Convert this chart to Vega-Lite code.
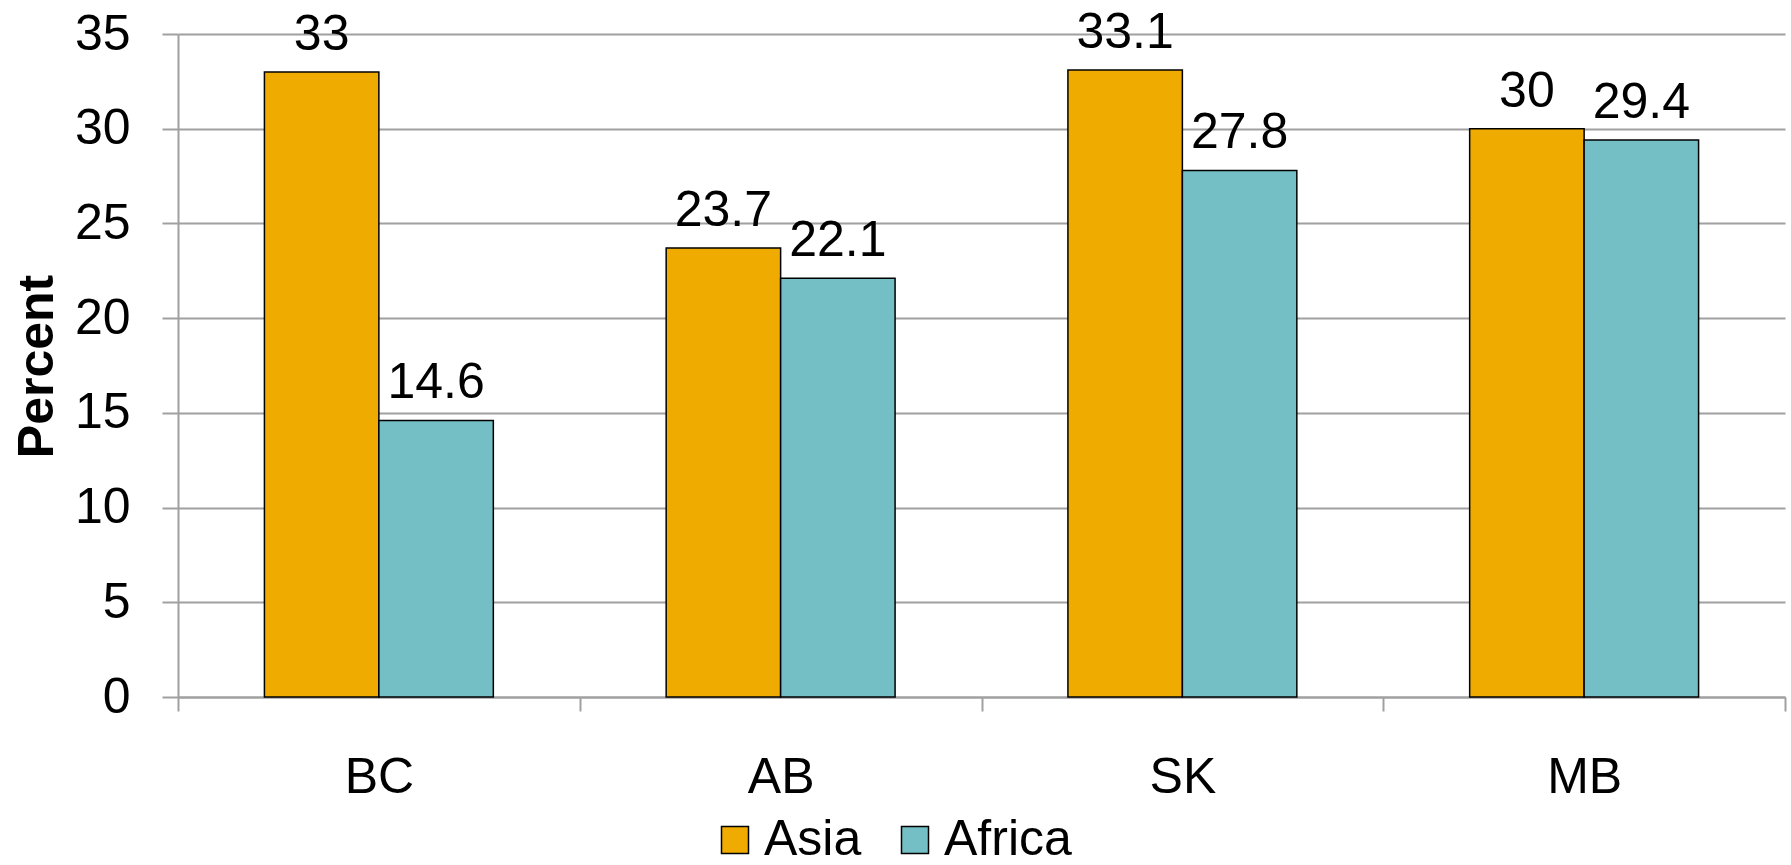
{
  "$schema": "https://vega.github.io/schema/vega-lite/v6.json",
  "autosize": {"type": "none"},
  "padding": {"left": 178, "top": 34, "right": 6, "bottom": 168},
  "width": 1607,
  "height": 663,
  "background": "white",
  "config": {
    "font": "Liberation Sans",
    "view": {"stroke": null}
  },
  "data": {
    "values": [
      {"region": "BC", "series": "Asia", "value": 33},
      {"region": "BC", "series": "Africa", "value": 14.6},
      {"region": "AB", "series": "Asia", "value": 23.7},
      {"region": "AB", "series": "Africa", "value": 22.1},
      {"region": "SK", "series": "Asia", "value": 33.1},
      {"region": "SK", "series": "Africa", "value": 27.8},
      {"region": "MB", "series": "Asia", "value": 30},
      {"region": "MB", "series": "Africa", "value": 29.4}
    ]
  },
  "encoding": {
    "x": {
      "field": "region",
      "type": "nominal",
      "sort": ["BC", "AB", "SK", "MB"],
      "scale": {"paddingInner": 0, "paddingOuter": 0},
      "axis": {
        "title": null,
        "labelAngle": 0,
        "labelFontSize": 50,
        "labelColor": "black",
        "labelPadding": 41,
        "tickBand": "extent",
        "tickSize": 14,
        "tickColor": "#A0A0A0",
        "tickWidth": 2,
        "domainColor": "#A0A0A0",
        "domainWidth": 2,
        "grid": false
      }
    },
    "xOffset": {
      "field": "series",
      "type": "nominal",
      "sort": ["Asia", "Africa"],
      "scale": {"paddingInner": 0, "paddingOuter": 0.755}
    },
    "y": {
      "field": "value",
      "type": "quantitative",
      "scale": {"domain": [0, 35], "nice": false},
      "axis": {
        "values": [0, 5, 10, 15, 20, 25, 30, 35],
        "title": "Percent",
        "titleFontSize": 50,
        "titleFontWeight": "bold",
        "titleColor": "black",
        "titleAngle": 270,
        "titleAlign": "center",
        "titleBaseline": "middle",
        "titleX": -141,
        "titleY": 332,
        "labelFontSize": 50,
        "labelColor": "black",
        "labelPadding": 32,
        "tickSize": 16,
        "tickColor": "#A0A0A0",
        "tickWidth": 2,
        "domainColor": "#A0A0A0",
        "domainWidth": 2,
        "grid": true,
        "gridColor": "#A0A0A0",
        "gridWidth": 2
      }
    }
  },
  "layer": [
    {
      "mark": {"type": "bar", "stroke": "black", "strokeWidth": 1.5},
      "encoding": {
        "color": {
          "field": "series",
          "type": "nominal",
          "sort": ["Asia", "Africa"],
          "scale": {"domain": ["Asia", "Africa"], "range": ["#F0AB00", "#74BFC5"]},
          "legend": {
            "title": null,
            "orient": "none",
            "direction": "horizontal",
            "legendX": 532,
            "legendY": 781,
            "padding": 0,
            "symbolType": "square",
            "symbolSize": 729,
            "symbolStrokeColor": "black",
            "symbolStrokeWidth": 1.5,
            "labelFontSize": 50,
            "labelColor": "black",
            "labelOffset": 4,
            "columnPadding": 28
          }
        }
      }
    },
    {
      "mark": {"type": "text", "fontSize": 50, "color": "black", "baseline": "alphabetic", "dy": -22},
      "encoding": {
        "text": {"field": "value", "type": "quantitative"}
      }
    }
  ]
}
